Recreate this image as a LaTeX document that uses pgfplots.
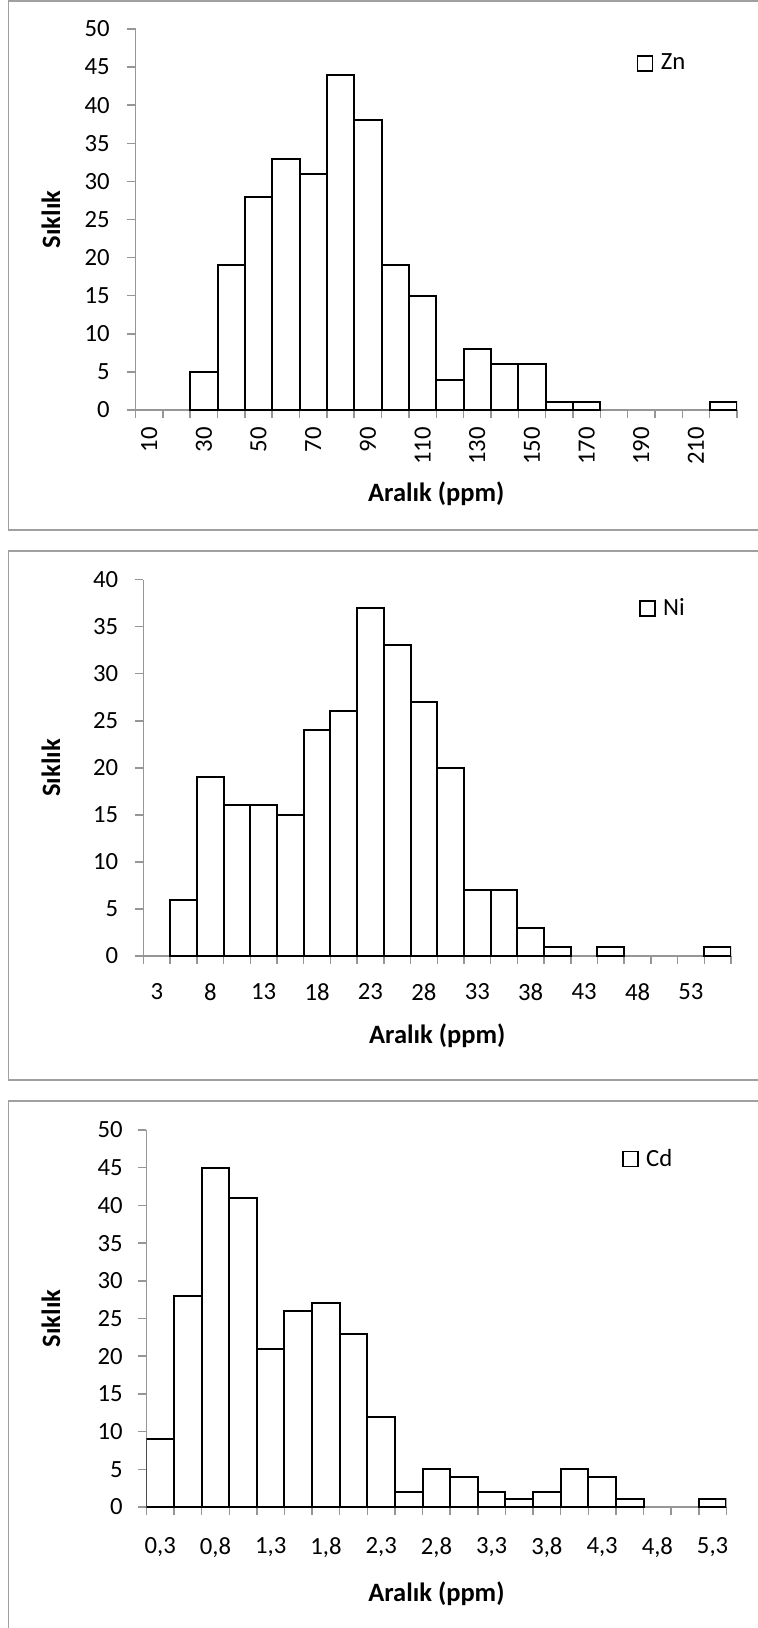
\documentclass[border=0pt]{standalone}
\usepackage{fontspec}
\setmainfont{Carlito}
\usepackage{pgfplots}
\pgfplotsset{compat=1.18}

\definecolor{axisgray}{RGB}{150,150,150}
\definecolor{framegray}{RGB}{160,160,160}

\newcommand{\labfont}{\fontsize{13.25}{15}\selectfont\bfseries}

\pgfplotsset{
  histo/.style={
    scale only axis,
    anchor=south west,
    axis lines*=left,
    axis line style={axisgray, line width=0.75pt},
    ymin=0,
    tick align=outside,
    major tick length=0pt,
    minor tick length=4pt,
    tick style={axisgray, line width=0.75pt},
    tick label style={font=\fontsize{12.35}{14}\selectfont, inner sep=0pt},
    /pgf/number format/assume math mode=true,
    yticklabel style={anchor=east},
    every axis y label/.style={rotate=90, anchor=center, font=\labfont},
    every axis x label/.style={anchor=center, font=\labfont},
    legend style={draw=none, fill=none, inner sep=0pt, outer sep=0pt, anchor=west,
      font=\fontsize{12.35}{14}\selectfont, nodes={inner sep=0pt}},
    legend image code/.code={
      \draw[black, line width=0.8pt, fill=white] (0pt,-3.75pt) rectangle (7.5pt,3.75pt);
      \path (11.15pt,0pt);
    },
  },
  bars/.style={ybar, bar width=1, bar shift=0pt, draw=black, fill=white, line width=1pt},
}

\begin{document}
\begin{tikzpicture}
\path[use as bounding box] (0pt,0pt) rectangle (379pt,-814pt);

% panel frames
\draw[framegray, line width=0.75pt] (395pt,-0.5pt) -- (4.25pt,-0.5pt) -- (4.25pt,-265pt) -- (395pt,-265pt);
\draw[framegray, line width=0.75pt] (395pt,-275.5pt) -- (4.25pt,-275.5pt) -- (4.25pt,-540pt) -- (395pt,-540pt);
\draw[framegray, line width=0.75pt] (395pt,-550.5pt) -- (4.25pt,-550.5pt) -- (4.25pt,-830pt);

% Zn
\begin{axis}[histo,
  at={(67.75pt,-205pt)}, width=300.75pt, height=190.5pt,
  xmin=-0.5, xmax=21.5, ymax=50,
  xtick={0,2,...,20},
  xticklabels={10,30,50,70,90,110,130,150,170,190,210},
  minor xtick={-0.5,0.5,...,21.5},
  ytick={0,5,...,50}, minor ytick={0,5,...,50},
  xticklabel style={rotate=90, anchor=east},
  xticklabel shift=8.5pt, yticklabel shift=12.75pt,
  xlabel={Aralık (ppm)}, ylabel={Sıklık},
  x label style={at={(axis description cs:0.5,-0.2205)}},
  y label style={at={(axis description cs:-0.1405,0.5)}},
  legend style={at={(axis description cs:0.8333,0.9094)}},
]
\addplot[bars] coordinates {
  (2,5) (3,19) (4,28) (5,33) (6,31) (7,44) (8,38) (9,19) (10,15)
  (11,4) (12,8) (13,6) (14,6) (15,1) (16,1) (21,1)
};
\addlegendentry{Zn}
\end{axis}

% Ni
\begin{axis}[histo,
  at={(71.75pt,-478pt)}, width=293.75pt, height=188.2pt,
  xmin=-0.5, xmax=21.5, ymax=40,
  xtick={0,2,...,20},
  xticklabels={3,8,13,18,23,28,33,38,43,48,53},
  minor xtick={-0.5,0.5,...,21.5},
  ytick={0,5,...,40}, minor ytick={0,5,...,40},
  xticklabel style={anchor=north},
  xticklabel shift=13.5pt, yticklabel shift=12.5pt,
  xlabel={Aralık (ppm)}, ylabel={Sıklık},
  x label style={at={(axis description cs:0.5,-0.2125)}},
  y label style={at={(axis description cs:-0.1574,0.5)}},
  legend style={at={(axis description cs:0.8434,0.9232)}},
]
\addplot[bars] coordinates {
  (1,6) (2,19) (3,16) (4,16) (5,15) (6,24) (7,26) (8,37) (9,33) (10,27)
  (11,20) (12,7) (13,7) (14,3) (15,1) (17,1) (21,1)
};
\addlegendentry{Ni}
\end{axis}

% Cd
\begin{axis}[histo,
  at={(73.2pt,-753.5pt)}, width=290pt, height=188.5pt,
  xmin=-0.5, xmax=20.5, ymax=50,
  xtick={0,2,...,20},
  xticklabels={{0,3},{0,8},{1,3},{1,8},{2,3},{2,8},{3,3},{3,8},{4,3},{4,8},{5,3}},
  minor xtick={-0.5,0.5,...,20.5},
  ytick={0,5,...,50}, minor ytick={0,5,...,50},
  xticklabel style={anchor=north},
  xticklabel shift=15pt, yticklabel shift=11.7pt,
  xlabel={Aralık (ppm)}, ylabel={Sıklık},
  x label style={at={(axis description cs:0.5,-0.2308)}},
  y label style={at={(axis description cs:-0.1645,0.5)}},
  legend style={at={(axis description cs:0.820,0.923)}},
]
\addplot[bars] coordinates {
  (0,9) (1,28) (2,45) (3,41) (4,21) (5,26) (6,27) (7,23) (8,12) (9,2)
  (10,5) (11,4) (12,2) (13,1) (14,2) (15,5) (16,4) (17,1) (20,1)
};
\addlegendentry{Cd}
\end{axis}
\end{tikzpicture}
\end{document}
